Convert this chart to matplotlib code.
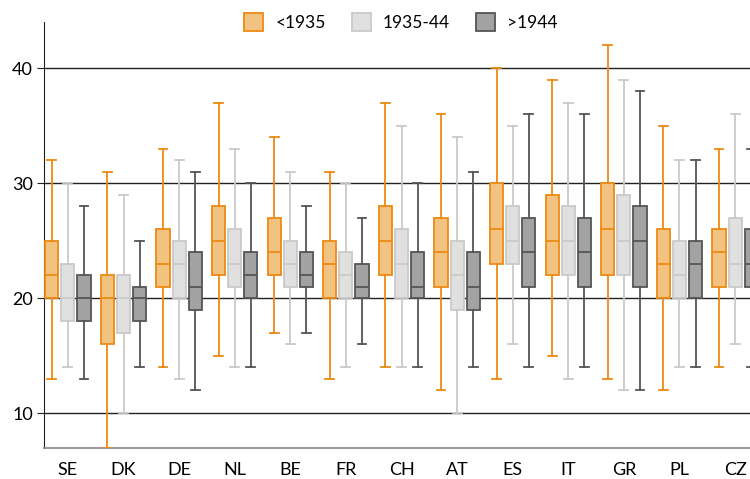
import matplotlib.pyplot as plt
from matplotlib.patches import Patch

countries = ["SE", "DK", "DE", "NL", "BE", "FR", "CH", "AT", "ES", "IT", "GR", "PL", "CZ"]
cohorts = ["<1935", "1935-44", ">1944"]

# whisker low, q1, median, q3, whisker high per country
old_low = [13, 7, 14, 15, 17, 13, 14, 12, 13, 15, 13, 12, 14]
old_q1 = [20, 16, 21, 22, 22, 20, 22, 21, 23, 22, 22, 20, 21]
old_med = [22, 20, 23, 25, 24, 23, 25, 24, 26, 25, 26, 23, 24]
old_q3 = [25, 22, 26, 28, 27, 25, 28, 27, 30, 29, 30, 26, 26]
old_high = [32, 31, 33, 37, 34, 31, 37, 36, 40, 39, 42, 35, 33]

mid_low = [14, 10, 13, 14, 16, 14, 14, 10, 16, 13, 12, 14, 16]
mid_q1 = [18, 17, 20, 21, 21, 20, 20, 19, 23, 22, 22, 20, 21]
mid_med = [20, 20, 23, 23, 23, 22, 23, 22, 25, 25, 25, 22, 23]
mid_q3 = [23, 22, 25, 26, 25, 24, 26, 25, 28, 28, 29, 25, 27]
mid_high = [30, 29, 32, 33, 31, 30, 35, 34, 35, 37, 39, 32, 36]

young_low = [13, 14, 12, 14, 17, 16, 14, 14, 14, 14, 12, 14, 14]
young_q1 = [18, 18, 19, 20, 21, 20, 20, 19, 21, 21, 21, 20, 21]
young_med = [20, 20, 21, 22, 22, 21, 21, 21, 24, 24, 25, 23, 23]
young_q3 = [22, 21, 24, 24, 24, 23, 24, 24, 27, 27, 28, 25, 26]
young_high = [28, 25, 31, 30, 28, 27, 30, 31, 36, 36, 38, 32, 33]

series = [
    (old_low, old_q1, old_med, old_q3, old_high),
    (mid_low, mid_q1, mid_med, mid_q3, mid_high),
    (young_low, young_q1, young_med, young_q3, young_high),
]
fills = ["#F2C281", "#E0E0E0", "#A2A2A2"]
edges = ["#EC8A12", "#C9C9C9", "#555555"]
offsets = [-0.29, 0.0, 0.29]

plt.rcParams['font.family'] = ['Lato', 'DejaVu Sans']

fig = plt.figure(figsize=(7.5, 4.79), dpi=100)
ax = fig.add_axes([44 / 750, 31 / 479, 715 / 750, 426 / 479])

for k, (lo, q1, med, q3, hi) in enumerate(series):
    stats = []
    for i in range(len(countries)):
        stats.append({"whislo": lo[i], "q1": q1[i], "med": med[i],
                      "q3": q3[i], "whishi": hi[i], "fliers": []})
    pos = [i + offsets[k] for i in range(len(countries))]
    ax.bxp(stats, positions=pos, widths=0.235, patch_artist=True,
           showfliers=False, manage_ticks=False,
           boxprops=dict(facecolor=fills[k], edgecolor=edges[k], linewidth=1.3),
           medianprops=dict(color=edges[k], linewidth=1.3),
           whiskerprops=dict(color=edges[k], linewidth=1.3),
           capprops=dict(color=edges[k], linewidth=1.3),
           capwidths=0.16, zorder=3)

ax.set_xlim(-0.43, len(countries) - 1 + 0.43)
ax.set_ylim(7, 44)
ax.set_yticks([10, 20, 30, 40])
ax.set_xticks(range(len(countries)))
ax.set_xticklabels(countries)
ax.yaxis.grid(True, color="#222222", linewidth=1.0)
ax.set_axisbelow(True)

for s in ["top", "right"]:
    ax.spines[s].set_visible(False)
ax.spines["left"].set_color("#222222")
ax.spines["bottom"].set_color("#888888")
ax.spines["bottom"].set_linewidth(1.2)
ax.tick_params(axis="y", length=5, color="#222222", labelsize=13, pad=3)
ax.tick_params(axis="x", length=0, labelsize=13, pad=10)

handles = [Patch(facecolor=fills[k], edgecolor=edges[k], linewidth=1.3, label=cohorts[k])
           for k in range(3)]
fig.legend(handles=handles, loc="center", bbox_to_anchor=(401 / 750, 1 - 22 / 479),
           ncol=3, frameon=False, fontsize=12.5, handlelength=1.1, handleheight=1.2,
           handletextpad=0.7, columnspacing=1.5)

fig.savefig("out.png", dpi=100)
